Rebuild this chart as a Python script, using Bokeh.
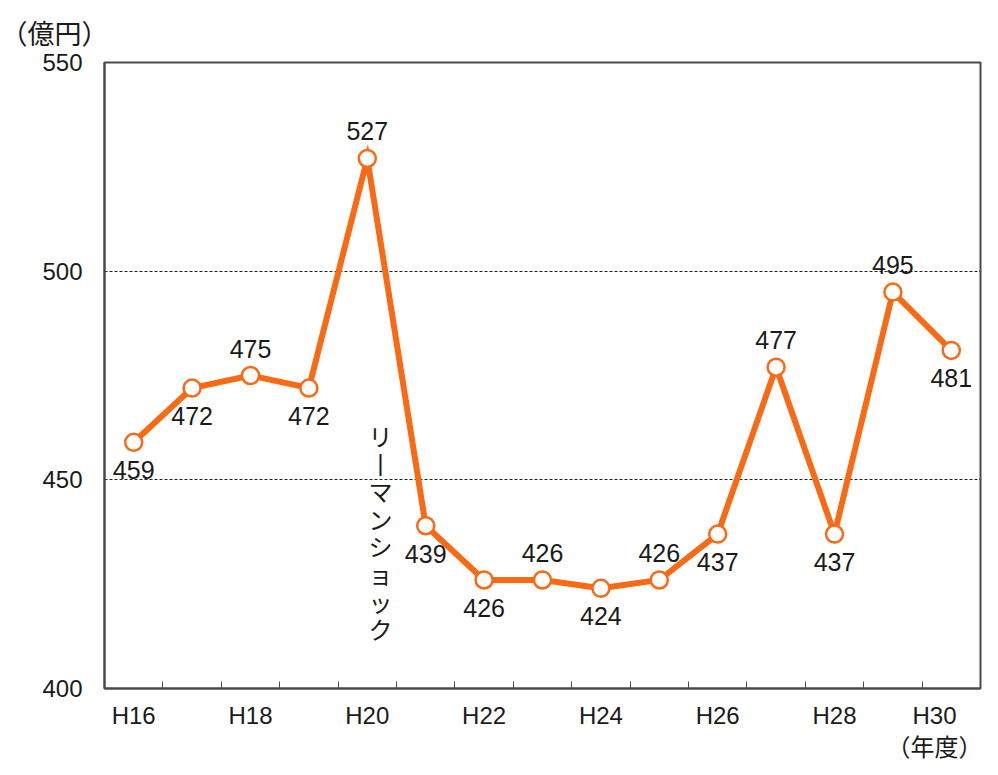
from bokeh.plotting import figure
from bokeh.models import Range1d, FixedTicker, Title, ColumnDataSource
from bokeh.core.properties import value
from bokeh.embed import file_html
from bokeh.resources import INLINE

# ---- data ----
years = ["H16", "H17", "H18", "H19", "H20", "H21", "H22", "H23",
         "H24", "H25", "H26", "H27", "H28", "H29", "H30"]
values = [459, 472, 475, 472, 527, 439, 426, 426, 424, 426, 437, 477, 437, 495, 481]
label_side = ["below", "below", "above", "below", "above", "below", "below", "above",
              "below", "above", "below", "above", "below", "above", "below"]
y_ticks = [400, 450, 500, 550]
grid_levels = [450, 500]
note_chars = ["リ", "丨", "マ", "ン", "シ", "ョ", "ッ", "ク"]
x_unit = "（年度）"
y_unit = "（億円）"

ORANGE = "#FA6A14"
FRAME = "#4a4a4a"
TXT = "#1a1a1a"
FONT = "Liberation Sans"
JFONT = "Noto Sans CJK JP"

idx = list(range(len(years)))

p = figure(frame_width=876, frame_height=626,
           min_border_left=104, min_border_right=2, min_border_top=62, min_border_bottom=71,
           x_range=Range1d(-0.5, len(years) - 0.5), y_range=Range1d(400, 550),
           output_backend="svg", toolbar_location=None, background_fill_color="white",
           border_fill_color="white")

p.outline_line_color = FRAME
p.outline_line_width = 2

# x axis (unit label as a second line under the last category)
overrides = {i: years[i] for i in idx}
overrides[idx[-1]] = years[-1] + "\n" + x_unit
p.xaxis.ticker = FixedTicker(ticks=idx[::2], minor_ticks=[i + 0.5 for i in idx[:-1]])
p.xaxis.major_label_overrides = overrides
p.xaxis.major_tick_in = 0
p.xaxis.major_tick_out = 0
p.xaxis.minor_tick_in = 7
p.xaxis.minor_tick_out = 0
p.xaxis.minor_tick_line_color = FRAME
p.xaxis.minor_tick_line_width = 1
p.xaxis.axis_line_color = FRAME
p.xaxis.axis_line_width = 2
p.xaxis.major_label_standoff = 13
p.xaxis.major_label_text_font = FONT + ", " + JFONT
p.xaxis.major_label_text_font_size = "24px"
p.xaxis.major_label_text_line_height = 1.2
p.xaxis.major_label_text_color = TXT

# y axis
p.yaxis.ticker = FixedTicker(ticks=y_ticks, minor_ticks=[])
p.yaxis.major_tick_in = 0
p.yaxis.major_tick_out = 0
p.yaxis.axis_line_color = FRAME
p.yaxis.axis_line_width = 2
p.yaxis.major_label_standoff = 22
p.yaxis.major_label_text_font = FONT
p.yaxis.major_label_text_font_size = "24px"
p.yaxis.major_label_text_color = TXT

# grid
p.xgrid.visible = False
p.ygrid.ticker = FixedTicker(ticks=grid_levels, minor_ticks=[])
p.ygrid.grid_line_color = "#222222"
p.ygrid.grid_line_width = 1
p.ygrid.grid_line_dash = "3 2"

src = ColumnDataSource(dict(
    x=idx, y=values, t=[str(v) for v in values],
    off=[-27 if s == "above" else 28 for s in label_side],
))

p.line("x", "y", source=src, line_color=ORANGE, line_width=6, line_join="miter")
p.scatter("x", "y", source=src, size=17, fill_color="white", line_color=ORANGE, line_width=2.5)
p.text("x", "y", text="t", source=src, y_offset="off", text_align="center",
       text_baseline="middle", text_font_size="25px", text_color=TXT,
       text_font=value(FONT))

# vertical note "リーマンショック" between H20 and H21
note_src = ColumnDataSource(dict(
    x=[4.226] * len(note_chars), y=[460.6] * len(note_chars), t=note_chars,
    off=[27.6 * k for k in range(len(note_chars))],
))
p.text("x", "y", text="t", source=note_src, y_offset="off", text_align="center",
       text_baseline="middle", text_font_size="24px", text_color=TXT,
       text_font=value(JFONT))

# unit label
p.add_layout(Title(text=y_unit, align="left", offset=-104, standoff=21,
                   text_font=JFONT, text_font_size="27px", text_font_style="normal",
                   text_color=TXT), "above")

open("out.html", "w").write(file_html(p, INLINE))
